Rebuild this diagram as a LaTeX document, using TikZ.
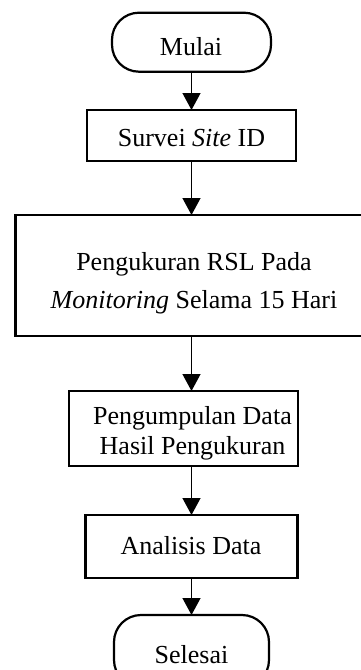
\documentclass[tikz,border=0pt]{standalone}
\usepackage{fontspec}
\setmainfont{Liberation Serif}
\usetikzlibrary{arrows.meta}
\begin{document}
\begin{tikzpicture}[x=1pt,y=-1pt,
  box/.style={draw, line width=2.2pt, inner sep=0pt, outer sep=0pt},
  term/.style={box, rounded corners=27pt},
  txt/.style={anchor=base, inner sep=0pt, font=\fontsize{26}{30}\selectfont},
  arr/.style={line width=1.3pt, -{Triangle[length=17pt,width=18pt]}}]
\useasboundingbox (0,0) rectangle (361,670);
\clip (0,0) rectangle (361,670);
% shapes
\node[term, minimum width=159pt, minimum height=59pt] (mulai) at (191.5,42.2) {};
\node[box, minimum width=209pt, minimum height=51pt] (survei) at (191.5,135.5) {};
\node[box, minimum width=352pt, minimum height=121pt] (big) at (191.5,275.5) {};
\node[box, minimum width=229pt, minimum height=75pt] (peng) at (183.5,428.5) {};
\node[box, minimum width=212pt, minimum height=63pt] (anal) at (191.5,546.5) {};
\node[term, minimum width=155pt, minimum height=72pt] (sel) at (191.5,651) {};
% texts
\node[txt] (tmulai) at (191,55) {Mulai};
\node[txt] (tsurvei) at (191.5,146.7) {Survei \textit{Site} ID};
\node[txt] (tbig1) at (194,270.7) {Pengukuran RSL Pada};
\node[txt] (tbig2) at (194,308) {\textit{Monitoring} Selama 15 Hari};
\node[txt] (tpeng1) at (192.5,424) {Pengumpulan Data};
\node[txt] (tpeng2) at (192.5,454) {Hasil Pengukuran};
\node[txt] (tanal) at (191,554) {Analisis Data};
\node[txt] (tsel) at (191.5,663) {Selesai};
% connectors
\draw[arr] (mulai.south) -- (survei.north);
\draw[arr] (survei.south) -- (big.north);
\draw[arr] (big.south) -- (big.south |- peng.north);
\draw[arr] (anal.north |- peng.south) -- (anal.north);
\draw[arr] (anal.south) -- (sel.north);
\end{tikzpicture}
\end{document}
